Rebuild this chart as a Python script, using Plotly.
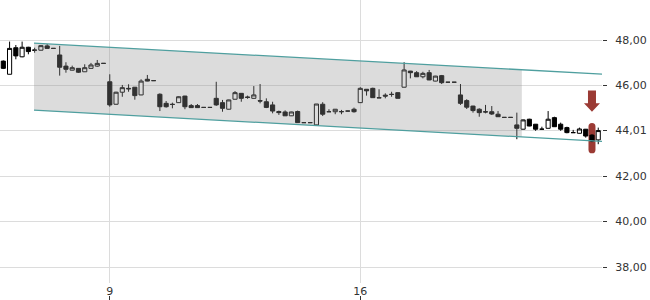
import numpy as np
import plotly.graph_objects as go

# ---- data ----
opens = [47.07, 46.49, 47.66, 47.26, 47.68, 47.56, 47.55, 47.74, 47.63, 47.34,
         46.85, 46.67, 46.75, 46.60, 46.75, 46.85, 46.97, 46.16, 45.17, 45.70,
         45.87, 45.92, 45.58, 46.27, 46.21, 45.61, 45.21, 45.17, 45.24, 45.53,
         45.11, 45.11, 45.03, 45.03, 45.43, 45.24, 44.95, 45.39, 45.65, 45.49,
         45.43, 45.33, 45.28, 45.14, 44.85, 44.83, 44.66, 44.85, 44.36, 44.36,
         44.26, 45.17, 44.84, 44.84, 44.85, 44.87, 44.95, 45.24, 45.83, 45.87,
         45.46, 45.57, 45.61, 45.68, 45.92, 46.63, 46.56, 46.38, 46.56, 46.19,
         46.43, 46.14, 46.14, 45.58, 45.33, 45.09, 44.95, 44.84, 44.84, 44.73,
         44.59, 44.59, 44.26, 44.07, 44.51, 44.29, 44.07, 44.11, 44.58, 44.29,
         44.14, 43.92, 43.89, 44.07, 43.81, 43.60]
highs = [47.10, 47.93, 47.78, 47.93, 47.70, 47.66, 47.77, 47.82, 47.64, 47.74,
         47.02, 46.87, 46.76, 46.93, 46.99, 47.12, 46.98, 46.49, 45.72, 46.02,
         46.05, 45.93, 46.27, 46.46, 46.22, 45.65, 45.31, 45.24, 45.52, 45.54,
         45.18, 45.18, 45.04, 45.04, 46.16, 45.36, 45.37, 45.75, 45.66, 45.55,
         45.97, 46.06, 45.43, 45.28, 44.89, 44.90, 44.84, 44.89, 44.37, 44.37,
         45.18, 45.26, 44.95, 44.96, 44.92, 44.88, 45.02, 45.92, 45.84, 45.90,
         45.83, 45.65, 45.72, 45.69, 47.02, 46.64, 46.63, 46.60, 46.68, 46.42,
         46.46, 46.15, 46.15, 46.06, 45.39, 45.10, 44.99, 45.14, 45.09, 44.87,
         44.60, 44.60, 44.80, 44.49, 44.53, 44.30, 44.18, 44.87, 44.62, 44.36,
         44.18, 44.04, 44.14, 44.08, 43.85, 44.14]
lows = [46.72, 46.49, 47.15, 47.24, 47.37, 47.44, 47.54, 47.62, 47.62, 46.43,
        46.56, 46.66, 46.55, 46.60, 46.75, 46.82, 46.96, 45.06, 45.15, 45.50,
        45.72, 45.37, 45.57, 46.18, 46.20, 44.87, 45.02, 44.99, 45.23, 44.95,
        45.01, 45.01, 45.02, 45.02, 45.10, 44.84, 44.94, 45.38, 45.28, 45.41,
        45.42, 45.21, 45.00, 44.77, 44.70, 44.66, 44.65, 44.35, 44.35, 44.35,
        44.25, 44.65, 44.83, 44.73, 44.73, 44.86, 44.80, 45.23, 45.55, 45.46,
        45.45, 45.43, 45.50, 45.43, 45.91, 46.31, 46.37, 46.31, 46.23, 46.18,
        46.06, 46.13, 46.13, 45.14, 44.96, 44.80, 44.62, 44.77, 44.70, 44.61,
        44.58, 44.58, 43.63, 44.06, 44.20, 44.00, 44.06, 44.10, 44.17, 44.00,
        43.89, 43.91, 43.88, 43.70, 43.50, 43.41]
closes = [46.75, 47.63, 47.30, 47.68, 47.49, 47.55, 47.75, 47.63, 47.63, 46.80,
          46.71, 46.78, 46.58, 46.78, 46.90, 46.97, 46.97, 45.14, 45.70, 45.90,
          45.85, 45.55, 46.19, 46.19, 46.21, 45.06, 45.06, 45.16, 45.50, 45.06,
          45.02, 45.02, 45.03, 45.03, 45.14, 44.99, 45.36, 45.68, 45.43, 45.47,
          45.58, 45.31, 45.03, 44.87, 44.80, 44.66, 44.83, 44.36, 44.36, 44.36,
          45.18, 44.73, 44.84, 44.95, 44.84, 44.87, 44.84, 45.87, 45.76, 45.46,
          45.45, 45.53, 45.60, 45.43, 46.68, 46.56, 46.38, 46.53, 46.24, 46.41,
          46.12, 46.14, 46.14, 45.21, 45.04, 44.89, 44.80, 44.83, 44.74, 44.62,
          44.59, 44.59, 44.11, 44.48, 44.21, 44.07, 44.07, 44.51, 44.18, 44.07,
          43.92, 43.92, 44.08, 43.77, 43.55, 44.01]

x_ticks = [17, 57]
x_ticklabels = ["9", "16"]
y_ticks = [38.0, 40.0, 42.0, 44.01, 46.0, 48.0]
y_ticklabels = ["38,00", "40,00", "42,00", "44,01", "46,00", "48,00"]

# trend channel (start/end positions and prices)
channel_x = [4.9, 96.0]
channel_top = [47.86, 46.49]
channel_bot = [44.91, 43.53]
shade_end = 82.8

signal_index = 94

# ---- figure ----
idx = list(range(len(opens)))
fig = go.Figure()

sx = [channel_x[0], shade_end, shade_end, channel_x[0]]
sy = [channel_top[0], float(np.interp(shade_end, channel_x, channel_top)),
      float(np.interp(shade_end, channel_x, channel_bot)), channel_bot[0]]
fig.add_trace(go.Scatter(x=sx, y=sy, fill="toself", mode="none",
                         fillcolor="rgba(150,150,150,0.33)", hoverinfo="skip"))
for yy in (channel_top, channel_bot):
    fig.add_trace(go.Scatter(x=channel_x, y=yy, mode="lines",
                             line=dict(color="#4f9f9f", width=1.3), hoverinfo="skip"))

fig.add_trace(go.Candlestick(
    x=idx, open=opens, high=highs, low=lows, close=closes,
    increasing=dict(line=dict(color="#000000", width=1), fillcolor="#ffffff"),
    decreasing=dict(line=dict(color="#000000", width=1), fillcolor="#000000"),
    whiskerwidth=0,
))

# signal marker: arrow above the candle, rounded bar around it
h = highs[signal_index]
l = lows[signal_index]
st, sb, tip = h + 1.92, h + 1.36, h + 0.99
arrow = (f"M-4,{st} L4,{st} L4,{sb} L8,{sb} L0,{tip} L-8,{sb} L-4,{sb} Z")
bt, bb, r = h + 0.49, l - 0.49, 0.16
bar = (f"M-3.5,{bt - r} Q-3.5,{bt} 0,{bt} Q3.5,{bt} 3.5,{bt - r} "
       f"L3.5,{bb + r} Q3.5,{bb} 0,{bb} Q-3.5,{bb} -3.5,{bb + r} Z")
red = "#9b3a34"
fig.add_shape(type="path", path=arrow, xsizemode="pixel", xanchor=signal_index,
              xref="x", yref="y", fillcolor=red, line=dict(width=0), layer="above")
fig.add_shape(type="path", path=bar, xsizemode="pixel", xanchor=signal_index,
              xref="x", yref="y", fillcolor=red, line=dict(width=0), layer="between")

font = dict(family="DejaVu Sans", size=11, color="#333333")
fig.update_layout(
    width=650, height=300,
    margin=dict(l=0, r=48, t=0, b=0),
    paper_bgcolor="white", plot_bgcolor="white",
    showlegend=False,
    boxgap=0.34, boxgroupgap=0,
    font=font,
    xaxis=dict(range=[-0.53, 95.6], tickvals=x_ticks, ticktext=x_ticklabels,
               showgrid=True, gridcolor="#dcdcdc", gridwidth=1, zeroline=False,
               ticks="", showline=False, rangeslider=dict(visible=False),
               tickfont=font, fixedrange=True),
    xaxis2=dict(overlaying="x", matches="x", anchor="free", position=0,
                tickvals=x_ticks, showticklabels=False, showgrid=False,
                ticks="inside", ticklen=4, tickcolor="#333333", zeroline=False,
                showline=False),
    yaxis=dict(domain=[17 / 300, 1], range=[37.295, 49.762], side="right",
               tickvals=y_ticks, ticktext=y_ticklabels, ticks="outside",
               ticklen=4, tickcolor="#333333", showgrid=True,
               gridcolor="#dcdcdc", gridwidth=1, zeroline=False,
               showline=False, tickfont=font, ticklabelstandoff=6),
)
# invisible trace to activate xaxis2
fig.add_trace(go.Scatter(x=[x_ticks[0]], y=[y_ticks[0]], xaxis="x2", mode="markers",
                         marker=dict(opacity=0), hoverinfo="skip"))

fig.write_html("out.html")
